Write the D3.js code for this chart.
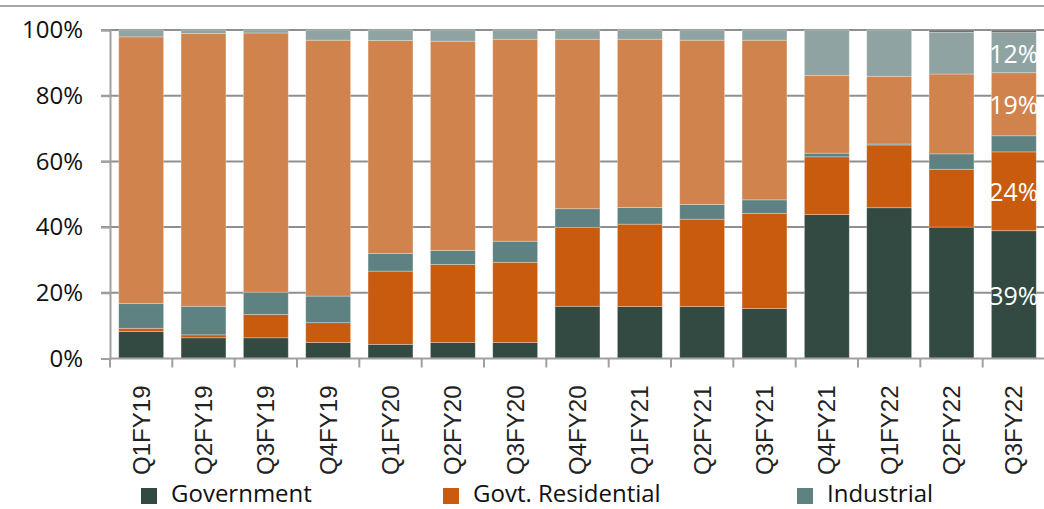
<!DOCTYPE html>
<html>
<head>
<meta charset="utf-8">
<script src="https://cdn.jsdelivr.net/npm/d3@7"></script>
<style>
  body { margin: 0; background: #fff; }
  svg { display: block; }
</style>
</head>
<body>
<div id="grafico"></div>
<script>
const quarters = ["Q1FY19", "Q2FY19", "Q3FY19", "Q4FY19", "Q1FY20", "Q2FY20", "Q3FY20", "Q4FY20",
  "Q1FY21", "Q2FY21", "Q3FY21", "Q4FY21", "Q1FY22", "Q2FY22", "Q3FY22"];
const government   = [8.2, 6.3, 6.3, 4.9, 4.3, 4.9, 4.9, 15.9, 15.8, 15.8, 15.2, 43.8, 45.9, 40.0, 38.9];
const govtResident = [1.0, 0.9, 7.1, 6.0, 22.3, 23.7, 24.4, 24.0, 25.1, 26.6, 29.0, 17.6, 19.1, 17.6, 24.0];
const industrial   = [7.5, 8.7, 6.8, 8.1, 5.4, 4.3, 6.4, 5.7, 5.1, 4.5, 4.1, 1.1, 0.3, 4.7, 4.9];
const commercial   = [81.2, 83.0, 78.9, 77.9, 64.8, 63.7, 61.5, 51.6, 51.2, 50.0, 48.6, 23.6, 20.6, 24.3, 19.2];
const others       = [2.1, 1.1, 0.9, 3.1, 3.2, 3.4, 2.8, 2.8, 2.8, 3.1, 3.1, 13.9, 14.1, 12.7, 12.2];
const misc         = [0, 0, 0, 0, 0, 0, 0, 0, 0, 0, 0, 0, 0, 0.7, 0.8];
const yTicks = [0, 20, 40, 60, 80, 100];
const seriesNames = ["Government", "Govt. Residential", "Industrial", "Commercial", "Others", "Misc"];
const seriesColors = ["#324a42", "#c95b0e", "#5e8281", "#d0834d", "#8fa3a2", "#6e6e6e"];
const legendNames = ["Government", "Govt. Residential", "Industrial"];
// etiquetas solo en la ultima barra
const lastLabels = { "Government": "39%", "Govt. Residential": "24%", "Others": "12%", "Commercial": "19%" };

const ancho = 1044, alto = 509;
const marginLeft = 110;

const tabla = quarters.map((q, i) => ({
  q: q,
  "Government": government[i],
  "Govt. Residential": govtResident[i],
  "Industrial": industrial[i],
  "Commercial": commercial[i],
  "Others": others[i],
  "Misc": misc[i]
}));

const stack = d3.stack().keys(seriesNames)(tabla);

const xScale = d3.scaleBand()
  .domain(quarters)
  .range([marginLeft, 1045])
  .paddingInner(0.28)
  .paddingOuter(0.14);

const yScale = d3.scaleLinear()
  .domain([0, 100])
  .range([358.5, 30]);

const svg = d3.select("#grafico")
  .append("svg")
  .attr("width", ancho)
  .attr("height", alto);

// linea superior
svg.append("line")
  .attr("x1", 0).attr("x2", ancho)
  .attr("y1", 6).attr("y2", 6)
  .attr("stroke", "#a6a6a6").attr("stroke-width", 2);

// grilla
svg.append("g")
  .selectAll("line")
  .data(yTicks.filter(d => d > 0))
  .enter()
  .append("line")
  .attr("x1", marginLeft - 9)
  .attr("x2", ancho)
  .attr("y1", d => yScale(d))
  .attr("y2", d => yScale(d))
  .attr("stroke", "#8f8f8f")
  .attr("stroke-width", 2);

// barras
svg.append("g")
  .selectAll("g")
  .data(stack)
  .enter()
  .append("g")
  .attr("fill", (d, i) => seriesColors[i])
  .selectAll("rect")
  .data(d => d.map(v => Object.assign({}, v, { key: d.key })))
  .enter()
  .append("rect")
  .attr("x", d => xScale(d.data.q))
  .attr("y", d => yScale(d[1]))
  .attr("width", xScale.bandwidth())
  .attr("height", d => yScale(d[0]) - yScale(d[1]))
  .attr("stroke", "rgba(255,255,255,0.35)")
  .attr("stroke-width", 0.8);

// etiquetas de la ultima barra
const ultima = quarters[quarters.length - 1];
svg.append("g")
  .selectAll("text")
  .data(stack.filter(s => lastLabels[s.key]))
  .enter()
  .append("text")
  .attr("x", xScale(ultima) + xScale.bandwidth() / 2)
  .attr("y", s => {
    const v = s[s.length - 1];
    return (yScale(v[0]) + yScale(v[1])) / 2;
  })
  .attr("text-anchor", "middle")
  .attr("dominant-baseline", "central")
  .attr("fill", "#fff")
  .style("font-family", "'Open Sans', sans-serif")
  .style("font-size", "25px")
  .text(s => lastLabels[s.key]);

// eje Y
const yAxis = d3.axisLeft(yScale).tickValues(yTicks).tickFormat(d => d + "%").tickSize(9).tickPadding(18);
const gy = svg.append("g")
  .attr("transform", "translate(" + marginLeft + ",0)")
  .call(yAxis);
gy.select(".domain").attr("stroke", "#a0a0a0").attr("stroke-width", 2);
gy.selectAll(".tick line").attr("stroke", "#a0a0a0").attr("stroke-width", 2);
gy.selectAll("text")
  .attr("fill", "#111")
  .style("font-family", "'Open Sans', sans-serif")
  .style("font-size", "24px");

// eje X
const xAxis = d3.axisBottom(xScale).tickSize(0).tickPadding(0);
const gx = svg.append("g")
  .attr("transform", "translate(0," + yScale(0) + ")")
  .call(xAxis);
gx.select(".domain").remove();
gx.selectAll("text")
  .attr("fill", "#222")
  .style("font-family", "'Liberation Sans', Arial, sans-serif")
  .style("font-size", "24px")
  .style("text-anchor", "end")
  .attr("dy", "0.35em")
  .attr("transform", "translate(0,27) rotate(-90)");

svg.append("line")
  .attr("x1", marginLeft).attr("x2", ancho)
  .attr("y1", yScale(0)).attr("y2", yScale(0))
  .attr("stroke", "#a0a0a0").attr("stroke-width", 2);

// marcas entre categorias
const paso = xScale.step();
const bordes = quarters.map(q => xScale(q) - paso * xScale.paddingInner() / 2 + (q === quarters[0] ? paso * (xScale.paddingInner() / 2 - xScale.paddingOuter()) : 0));
svg.append("g")
  .selectAll("line")
  .data(bordes.concat([bordes[bordes.length - 1] + paso]))
  .enter()
  .append("line")
  .attr("x1", d => d).attr("x2", d => d)
  .attr("y1", yScale(0)).attr("y2", yScale(0) + 9)
  .attr("stroke", "#a0a0a0").attr("stroke-width", 2);

// leyenda
const leyenda = svg.append("g")
  .selectAll("g")
  .data(legendNames)
  .enter()
  .append("g")
  .attr("transform", (d, i) => "translate(" + [141, 443, 797][i] + ",488)");

leyenda.append("rect")
  .attr("width", 16).attr("height", 16)
  .attr("fill", d => seriesColors[seriesNames.indexOf(d)]);

leyenda.append("text")
  .attr("x", 30)
  .attr("y", 14)
  .attr("fill", "#111")
  .style("font-family", "'Open Sans', sans-serif")
  .style("font-size", "24px")
  .text(d => d);
</script>
</body>
</html>
